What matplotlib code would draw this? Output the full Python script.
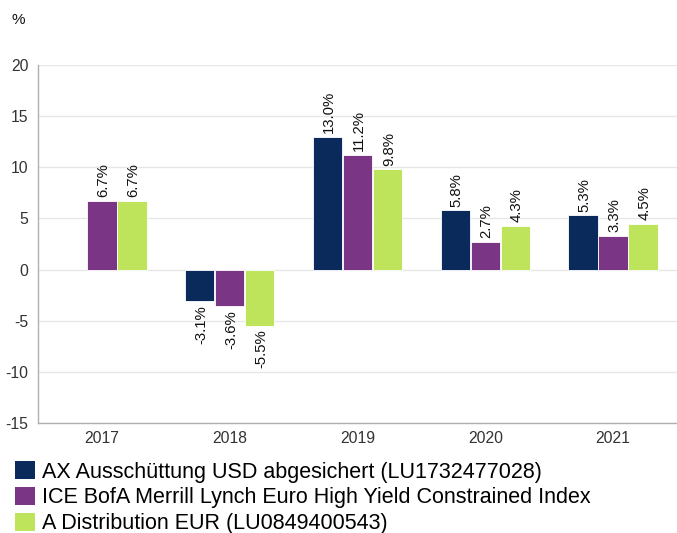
import numpy as np
import matplotlib.pyplot as plt
from matplotlib.patches import Patch

plt.rcParams['font.family'] = ['Liberation Sans', 'DejaVu Sans']
plt.rcParams['axes.unicode_minus'] = False

years = ['2017', '2018', '2019', '2020', '2021']
fund_usd = [np.nan, -3.1, 13.0, 5.8, 5.3]
index_vals = [6.7, -3.6, 11.2, 2.7, 3.3]
fund_eur = [6.7, -5.5, 9.8, 4.3, 4.5]

series_names = ['AX Ausschüttung USD abgesichert (LU1732477028)',
                'ICE BofA Merrill Lynch Euro High Yield Constrained Index',
                'A Distribution EUR (LU0849400543)']
colors = ['#0b2a5c', '#7b3585', '#bde45a']

fig = plt.figure(figsize=(6.77, 5.33), dpi=100)
ax = fig.add_axes([38/677, 1 - 423/533, 639/677, 358/533])

x = np.arange(len(years))
w = 0.23
gap = 0.235
for i, (vals, c) in enumerate(zip([fund_usd, index_vals, fund_eur], colors)):
    pos = x + (i - 1) * gap
    ax.bar(pos, vals, width=w, color=c, edgecolor='white', linewidth=0.6, zorder=3)
    for p, v in zip(pos, vals):
        if np.isnan(v):
            continue
        if v >= 0:
            ax.text(p + 0.01, v + 0.35, f'{v:.1f}%', rotation=90, ha='center', va='bottom',
                    fontsize=10.7, color='#111111')
        else:
            ax.text(p + 0.01, v - 0.35, f'{v:.1f}%', rotation=90, ha='center', va='top',
                    fontsize=10.7, color='#111111')

ax.set_xlim(-0.5, len(years) - 0.5)
ax.set_ylim(-15, 20)
ax.set_yticks(range(-15, 21, 5))
ax.set_xticks(x)
ax.set_xticklabels(years)
ax.tick_params(axis='both', length=0, labelsize=11.3, colors='#333333')
ax.tick_params(axis='x', pad=6)
ax.tick_params(axis='y', pad=7)
ax.grid(axis='y', color='#e6e6e6', linewidth=0.9, zorder=0)
for s in ['top', 'right']:
    ax.spines[s].set_visible(False)
for s in ['left', 'bottom']:
    ax.spines[s].set_color('#b0b0b0')
    ax.spines[s].set_linewidth(1.0)

fig.text(12/677, 1 - 20/533, '%', fontsize=11, va='center', ha='left', color='#111111')

handles = [Patch(facecolor=c, edgecolor='none') for c in colors]
fig.legend(handles, series_names, loc='upper left', bbox_to_anchor=(15/677, 1 - 461/533),
           frameon=False, fontsize=15.5, handlelength=0.93, handleheight=0.93,
           handletextpad=0.33, labelspacing=0.2, borderaxespad=0, borderpad=0)

fig.savefig('out.png', dpi=100)
